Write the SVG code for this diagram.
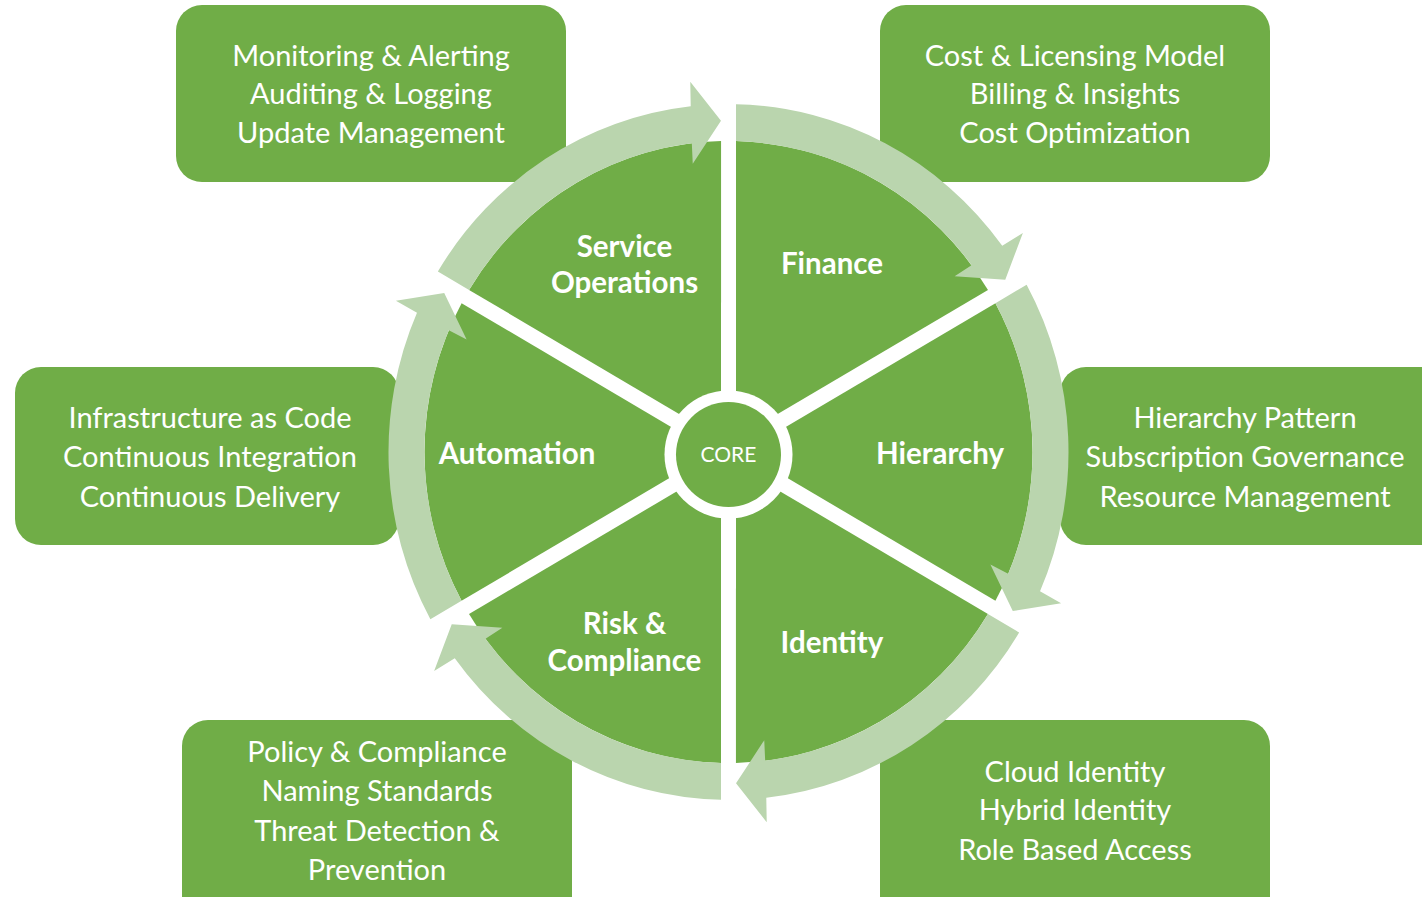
<svg xmlns="http://www.w3.org/2000/svg" xmlns:xlink="http://www.w3.org/1999/xlink" width="1422" height="897" viewBox="0 0 1422 897">
<style>
.box{fill:#70AD47}
.sec{fill:#70AD47}
.arr{fill:#BAD5AE}
.bt{font-family:Lato,"Liberation Sans",sans-serif;font-size:29px;fill:#FFFFFF;text-anchor:middle}
.st{font-family:Lato,"Liberation Sans",sans-serif;font-size:29.5px;font-weight:bold;fill:#FFFFFF;text-anchor:middle}
.ct{font-family:Lato,"Liberation Sans",sans-serif;font-size:21px;fill:#FFFFFF;text-anchor:middle}
</style>
<defs>
<path id="sector" d="M7.5,-12.99 L7.5,-303.91 A304,304 0 0 1 259.48,-158.39 Z"/>
<path id="arrow" d="M7.5,-339.92 A340,340 0 0 1 273.74,-201.67 L294.37,-214.10 L276.76,-168.47 L226.12,-171.83 L243.01,-182.66 A304,304 0 0 0 7.5,-303.91 Z"/>
</defs>
<rect width="1422" height="897" fill="#FFFFFF"/>
<g id="box-service-operations">
<rect class="box" x="176" y="5" width="390" height="177" rx="26"/>
<text class="bt" x="371" y="66">Monitoring &amp; Alerting</text>
<text class="bt" x="371" y="104">Auditing &amp; Logging</text>
<text class="bt" x="371" y="143">Update Management</text>
</g>
<g id="box-finance">
<rect class="box" x="880" y="5" width="390" height="177" rx="26"/>
<text class="bt" x="1075" y="66">Cost &amp; Licensing Model</text>
<text class="bt" x="1075" y="104">Billing &amp; Insights</text>
<text class="bt" x="1075" y="143">Cost Optimization</text>
</g>
<g id="box-automation">
<rect class="box" x="15" y="367" width="384" height="178" rx="26"/>
<text class="bt" x="210" y="428">Infrastructure as Code</text>
<text class="bt" x="210" y="467">Continuous Integration</text>
<text class="bt" x="210" y="507">Continuous Delivery</text>
</g>
<g id="box-hierarchy">
<rect class="box" x="1060" y="367" width="400" height="178" rx="26"/>
<text class="bt" x="1245" y="428">Hierarchy Pattern</text>
<text class="bt" x="1245" y="467">Subscription Governance</text>
<text class="bt" x="1245" y="507">Resource Management</text>
</g>
<g id="box-risk-compliance">
<rect class="box" x="182" y="720" width="390" height="210" rx="26"/>
<text class="bt" x="377" y="762">Policy &amp; Compliance</text>
<text class="bt" x="377" y="801">Naming Standards</text>
<text class="bt" x="377" y="841">Threat Detection &amp;</text>
<text class="bt" x="377" y="880">Prevention</text>
</g>
<g id="box-identity">
<rect class="box" x="880" y="720" width="390" height="210" rx="26"/>
<text class="bt" x="1075" y="782">Cloud Identity</text>
<text class="bt" x="1075" y="820">Hybrid Identity</text>
<text class="bt" x="1075" y="860">Role Based Access</text>
</g>
<g id="finance">
<use xlink:href="#sector" class="sec" transform="translate(728.5 452) scale(1 1.023)"/>
<text class="st" x="832" y="274">Finance</text>
</g>
<g id="hierarchy">
<use xlink:href="#sector" class="sec" transform="translate(728.5 452) scale(1 1.023) rotate(60)"/>
<text class="st" x="940" y="464">Hierarchy</text>
</g>
<g id="identity">
<use xlink:href="#sector" class="sec" transform="translate(728.5 452) scale(1 1.023) rotate(120)"/>
<text class="st" x="832" y="653">Identity</text>
</g>
<g id="risk-compliance">
<use xlink:href="#sector" class="sec" transform="translate(728.5 452) scale(1 1.023) rotate(180)"/>
<text class="st" x="624.5" y="634">Risk &amp;</text>
<text class="st" x="624.5" y="671">Compliance</text>
</g>
<g id="automation">
<use xlink:href="#sector" class="sec" transform="translate(728.5 452) scale(1 1.023) rotate(240)"/>
<text class="st" x="517" y="464">Automation</text>
</g>
<g id="service-operations">
<use xlink:href="#sector" class="sec" transform="translate(728.5 452) scale(1 1.023) rotate(300)"/>
<text class="st" x="624.5" y="257">Service</text>
<text class="st" x="624.5" y="293">Operations</text>
</g>
<g id="core">
<circle cx="728.5" cy="454.5" r="64" fill="#FFFFFF"/>
<circle cx="728.5" cy="454.5" r="52.5" fill="#70AD47"/>
<text class="ct" x="728.5" y="462">CORE</text>
</g>
<g id="connectors">
<use xlink:href="#arrow" class="arr" transform="translate(728.5 452) scale(1 1.023)"/>
<use xlink:href="#arrow" class="arr" transform="translate(728.5 452) scale(1 1.023) rotate(60)"/>
<use xlink:href="#arrow" class="arr" transform="translate(728.5 452) scale(1 1.023) rotate(120)"/>
<use xlink:href="#arrow" class="arr" transform="translate(728.5 452) scale(1 1.023) rotate(180)"/>
<use xlink:href="#arrow" class="arr" transform="translate(728.5 452) scale(1 1.023) rotate(240)"/>
<use xlink:href="#arrow" class="arr" transform="translate(728.5 452) scale(1 1.023) rotate(300)"/>
</g>
</svg>
